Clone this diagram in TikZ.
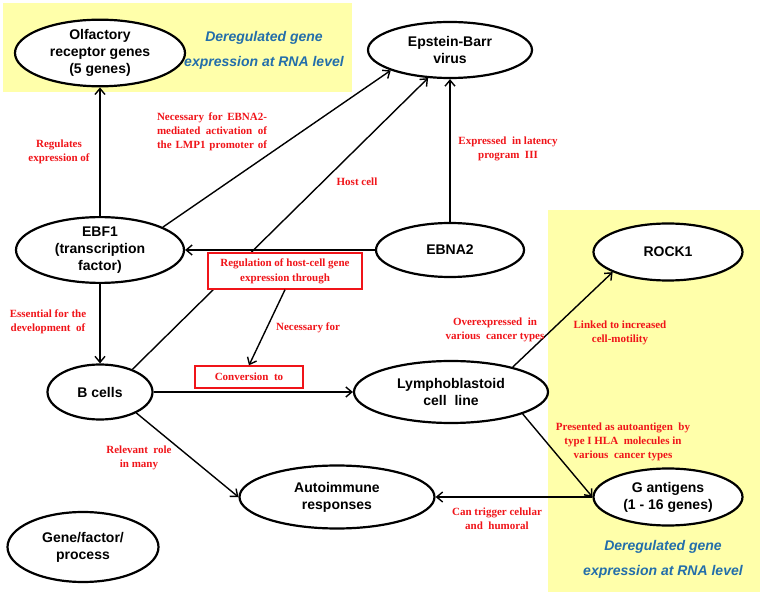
\documentclass[tikz,border=0pt]{standalone}
\usepackage{fontspec}
\setmainfont{Liberation Serif}
\setsansfont{Liberation Sans}
\usetikzlibrary{shapes.geometric,arrows.meta}
\definecolor{pale}{RGB}{255,255,170}
\definecolor{lab}{RGB}{240,20,25}
\definecolor{blu}{RGB}{35,110,170}
\begin{document}
\begin{tikzpicture}[x=1pt,y=-1pt,
  ell/.style={ellipse, draw, line width=2.2pt, fill=white, inner sep=0pt, align=center,
    font=\sffamily\bfseries\fontsize{14}{17}\selectfont},
  lbl/.style={text=lab, inner sep=0pt, align=center,
    font=\rmfamily\bfseries\fontsize{11}{14}\selectfont},
  rbox/.style={draw=lab, line width=1.4pt, fill=white, text=lab, inner sep=0pt, align=center,
    font=\rmfamily\bfseries\fontsize{11}{15}\selectfont},
  conn/.style={line width=1.4pt, -{Straight Barb[length=6pt,width=10pt]}},
  blab/.style={text=blu, inner sep=0pt, align=center,
    font=\sffamily\bfseries\itshape\fontsize{14}{25}\selectfont}]
\useasboundingbox (0,0) rectangle (764,596);
\fill[pale] (3,3) rectangle (352,92);
\fill[pale] (548,210) rectangle (760,592);

\node[ell, minimum width=170pt, minimum height=60pt] (olf) at (100,53) {Olfactory\\receptor genes\\(5 genes)};
\node[ell, minimum width=164pt, minimum height=56pt] (ebv) at (450,50) {Epstein-Barr\\virus};
\node[ell, minimum width=168pt, minimum height=58pt] (ebf) at (100,250) {EBF1\\(transcription\\factor)};
\node[ell, minimum width=148pt, minimum height=54pt] (ebna) at (450,250) {EBNA2};
\node[ell, minimum width=149pt, minimum height=57pt] (rock) at (668,252) {ROCK1};
\node[ell, minimum width=105pt, minimum height=55pt] (bc) at (100,392) {B cells};
\node[ell, minimum width=194pt, minimum height=62pt] (lcl) at (451,392) {Lymphoblastoid\\cell\ \ line};
\node[ell, minimum width=195pt, minimum height=63pt] (auto) at (337,497) {Autoimmune\\responses};
\node[ell, minimum width=149pt, minimum height=57pt] (gant) at (668,497) {G antigens\\(1 - 16 genes)};
\node[ell, minimum width=151pt, minimum height=70pt] (leg) at (83,547) {Gene/factor/\\process};

\draw[conn] (ebf) -- (olf);
\draw[conn] (ebf.20) -- (ebv.199);
\draw[conn] (bc.35) -- (ebv.232);
\draw[conn] (ebna) -- (ebv);
\draw[conn] (ebna) -- (ebf);
\draw[conn] (ebf) -- (bc);
\draw[conn] (bc) -- (lcl);
\draw[conn] (lcl.22) -- (rock.200);
\draw[conn] (lcl.343) -- (gant.west);
\draw[conn] (gant) -- (auto);
\draw[conn] (bc.330) -- (auto.west);

\node[rbox, minimum width=154pt, minimum height=36pt] (reg) at (285,271) {Regulation of host-cell gene\\expression through};
\node[rbox, minimum width=108pt, minimum height=22pt] (conv) at (249,377) {Conversion\ \ to};
\draw[conn] (reg.south) -- (conv.north);

\node[lbl] (l1) at (59,152) {Regulates\\expression of};
\node[lbl] (l2) at (212,132) {\makebox[110pt][s]{Necessary for EBNA2-}\\\makebox[110pt][s]{mediated activation of}\\\makebox[110pt][s]{the LMP1 promoter of}};
\node[lbl] (l3) at (357,182) {Host cell};
\node[lbl] (l4) at (508,149) {Expressed\ \ in latency\\program\ \ III};
\node[lbl] (l5) at (48,322) {Essential for the\\development\ \ of};
\node[lbl] (l6) at (308,328) {Necessary for};
\node[lbl] (l7) at (495,330) {Overexpressed\ \ in\\various\ \ cancer types};
\node[lbl] (l8) at (620,333) {Linked to increased\\cell-motility};
\node[lbl] (l9) at (623,442) {Presented as autoantigen\ \ by\\type I HLA\ \ molecules in\\various\ \ cancer types};
\node[lbl] (l10) at (497,519) {Can trigger celular\\and\ \ humoral};
\node[lbl] (l11) at (139,458) {Relevant\ \ role\\in many};

\node[blab] (b1) at (264,50) {Deregulated gene\\expression at RNA level};
\node[blab] (b2) at (663,559) {Deregulated gene\\expression at RNA level};
\end{tikzpicture}
\end{document}
